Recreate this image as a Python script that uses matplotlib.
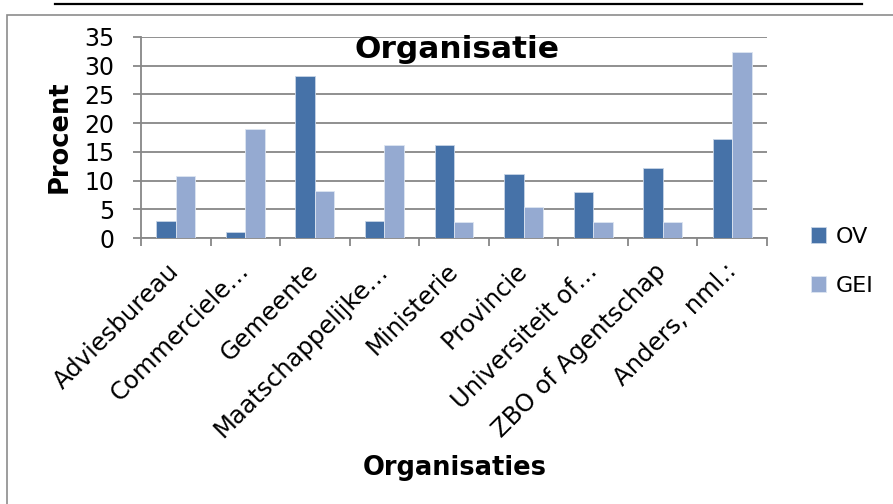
import matplotlib
matplotlib.use('Agg')
import matplotlib.pyplot as plt
import numpy as np
from matplotlib.patches import Rectangle
from matplotlib.lines import Line2D

plt.rcParams['font.family'] = ['DejaVu Sans']

categories = ['Adviesbureau', 'Commerciele…', 'Gemeente', 'Maatschappelijke…',
              'Ministerie', 'Provincie', 'Universiteit of…', 'ZBO of Agentschap',
              'Anders, nml.:']
ov = [3.03, 1.01, 28.28, 3.03, 16.16, 11.11, 8.08, 12.12, 17.17]
gei = [10.81, 18.92, 8.11, 16.22, 2.70, 5.41, 2.70, 2.70, 32.43]
series_names = ['OV', 'GEI']

c_ov = '#4672a8'
c_gei = '#95aad1'
grid_c = '#878787'

fig = plt.figure(figsize=(8.93, 5.04), dpi=100)
ax = fig.add_axes([141/893, 1-238/504, 626/893, 201/504])

x = np.arange(len(categories))
w = 0.28
ax.bar(x - w/2, ov, w, color=c_ov, edgecolor='#c6d4e6', linewidth=0.6,
       label=series_names[0], zorder=3)
ax.bar(x + w/2, gei, w, color=c_gei, edgecolor='#dde5f1', linewidth=0.6,
       label=series_names[1], zorder=3)

ax.set_xlim(-0.5, len(categories) - 0.5)
ax.set_ylim(0, 35)
ax.set_yticks(np.arange(0, 36, 5))
ax.yaxis.grid(True, color=grid_c, linewidth=1.3, zorder=0)
ax.set_axisbelow(True)

for s in ['top', 'right']:
    ax.spines[s].set_visible(False)
for s in ['left', 'bottom']:
    ax.spines[s].set_color(grid_c)
    ax.spines[s].set_linewidth(1.3)

ax.tick_params(axis='y', length=6, width=1.3, color=grid_c, pad=13, labelsize=17)
ax.set_xticks(x)
ax.set_xticklabels(categories, rotation=45, ha='right', va='center',
                   rotation_mode='anchor', fontsize=17.5)
ax.tick_params(axis='x', which='major', length=0, pad=21)
ax.set_xticks(np.arange(-0.5, len(categories)), minor=True)
ax.tick_params(axis='x', which='minor', length=6, width=1.3, color=grid_c)

fig.text(457.5/893, 1-58/504, 'Organisatie', ha='center', va='baseline',
         fontsize=22.5, fontweight='bold')
fig.text(59.5/893, 1-136.5/504, 'Procent', ha='center', va='center',
         rotation=90, fontsize=18.5, fontweight='bold')
fig.text(455/893, 1-475/504, 'Organisaties', ha='center', va='baseline',
         fontsize=18.5, fontweight='bold')

ax.legend(loc='upper left', bbox_to_anchor=(802/893, 1-218/504),
          bbox_transform=fig.transFigure, frameon=False, fontsize=16,
          handlelength=0.7, handleheight=0.7, handletextpad=0.4,
          labelspacing=1.3, borderaxespad=0)

# outer chart frame and header line
fig.add_artist(Rectangle((7/893, -0.05), 1.2, 1-15/504 + 0.05,
                         transform=fig.transFigure, fill=False,
                         edgecolor='#8c8c8c', linewidth=1.2))
fig.add_artist(Line2D([55/893, 862/893], [1-4/504, 1-4/504],
                      transform=fig.transFigure, color='black', linewidth=1.6))

fig.savefig('out.png', dpi=100)
